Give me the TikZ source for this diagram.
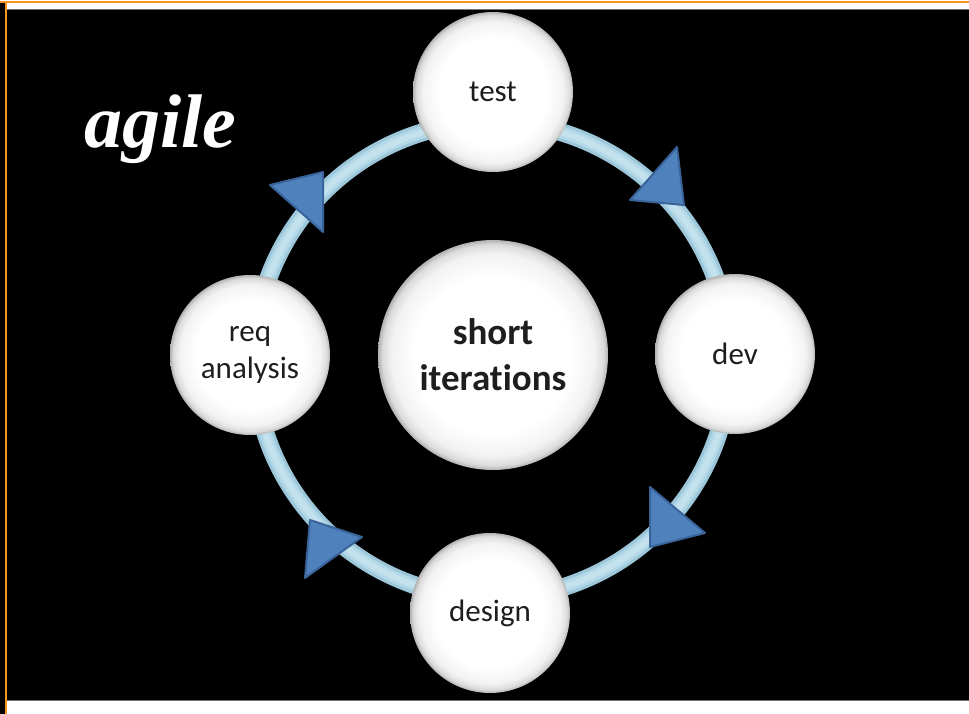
\documentclass[tikz,border=0pt]{standalone}
\usepackage{fontspec}
\setmainfont{Carlito}[Ligatures=NoCommon]
\newfontfamily\agilefont{Liberation Serif}
\pgfdeclareradialshading{spherewhite}{\pgfpointorigin}{color(0bp)=(white); color(17bp)=(white); color(22bp)=(black!5); color(24bp)=(black!14); color(25bp)=(black!30); color(50bp)=(black!30)}
\definecolor{ringout}{HTML}{9CC6D9}
\definecolor{ringmid}{HTML}{B3D8E7}
\definecolor{ringin}{HTML}{C4E2EE}
\definecolor{arrowfill}{HTML}{4F81BD}
\definecolor{arrowedge}{HTML}{3A6399}
\definecolor{frameorange}{HTML}{F7931E}
\definecolor{txt}{HTML}{1E1E1E}
\tikzset{
  ball/.style={circle, shade, shading=spherewhite, text=txt, align=center, inner sep=0pt},
  smallball/.style={ball, minimum size=160pt, font=\fontsize{31}{37}\selectfont},
  bigball/.style={ball, minimum size=230pt, font=\fontsize{37}{46}\selectfont\bfseries},
  arrowtri/.style={fill=arrowfill, draw=arrowedge, line width=2pt, line join=round},
}
\begin{document}
\begin{tikzpicture}[x=1pt,y=-1pt]
\useasboundingbox (0,0) rectangle (969,714);
% background and frame
\fill[white] (0,0) rectangle (969,714);
\fill[black] (0,9) rectangle (969,700);
\draw[black!55, line width=1pt] (0,9.5) -- (969,9.5);
\draw[black!55, line width=1pt] (7,700.5) -- (969,700.5);
\fill[frameorange] (0,1) rectangle (969,3);
\fill[black] (0,3) rectangle (5,714);
\fill[frameorange] (5,1) rectangle (7,714);
% title
\node[text=white, anchor=base, font=\agilefont\bfseries\itshape\fontsize{76}{80}\selectfont] (title) at (160,148) {agile};
% ring
\coordinate (ringc) at (492,360);
\draw[ringout, line width=18pt] (ringc) circle[radius=238];
\draw[ringmid, line width=12pt] (ringc) circle[radius=238];
\draw[ringin, line width=6pt] (ringc) circle[radius=238];
% arrow heads
\filldraw[arrowtri] (677,147) -- (630,200) -- (684,205) -- cycle;
\filldraw[arrowtri] (650,487) -- (650,547) -- (705,533) -- cycle;
\filldraw[arrowtri] (310,520) -- (305,578) -- (362,537) -- cycle;
\filldraw[arrowtri] (270,185) -- (323,172) -- (323,232) -- cycle;
% nodes
\node[smallball] (test) at (493,92) {test};
\node[smallball] (dev) at (735,354) {dev};
\node[smallball] (design) at (490,613) {design};
\node[smallball] (req) at (250,355) {req\\analysis};
\node[bigball] (center) at (493,355) {short\\iterations};
\end{tikzpicture}
\end{document}
